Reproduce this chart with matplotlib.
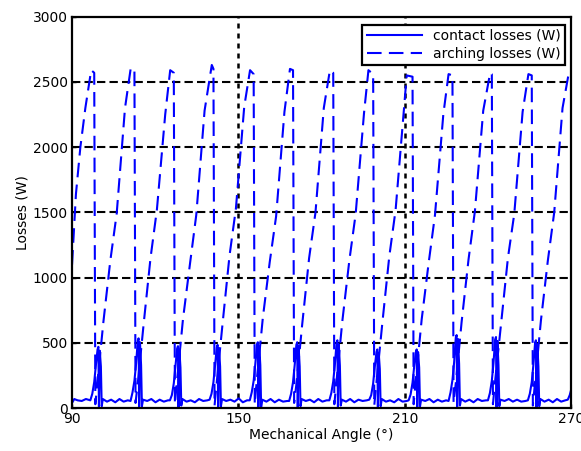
import numpy as np
import matplotlib
matplotlib.use("Agg")
import matplotlib.pyplot as plt

# contact losses (W) vs mechanical angle (deg)
contact_angle = [
    90.0, 90.8, 92.0, 93.5, 95.0,
    96.6, 97.3, 98.0, 98.6, 99.2, 99.5, 99.7, 100.0, 100.4, 100.7, 101.1, 102.6, 104.1, 105.6, 107.1, 108.6, 110.1,
    111.1, 111.8, 112.5, 113.1, 113.7, 114.0, 114.2, 114.5, 114.9, 115.2, 115.6, 117.1, 118.6, 120.1, 121.6, 123.1, 124.6,
    125.3, 126.0, 126.7, 127.3, 127.9, 128.2, 128.4, 128.7, 129.1, 129.4, 129.8, 131.3, 132.8, 134.3, 135.8, 137.3, 138.8,
    139.6, 140.3, 141.0, 141.6, 142.2, 142.5, 142.7, 143.0, 143.4, 143.7, 144.1, 145.6, 147.1, 148.6, 150.1, 151.6, 153.1,
    154.1, 154.8, 155.5, 156.1, 156.7, 157.0, 157.2, 157.5, 157.9, 158.2, 158.6, 160.1, 161.6, 163.1, 164.6, 166.1, 167.6,
    168.3, 169.0, 169.7, 170.3, 170.9, 171.2, 171.4, 171.7, 172.1, 172.4, 172.8, 174.3, 175.8, 177.3, 178.8, 180.3, 181.8,
    182.8, 183.5, 184.2, 184.8, 185.4, 185.7, 185.9, 186.2, 186.6, 186.9, 187.3, 188.8, 190.3, 191.8, 193.3, 194.8, 196.3,
    197.2, 197.9, 198.6, 199.2, 199.8, 200.1, 200.3, 200.6, 201.0, 201.3, 201.7, 203.2, 204.7, 206.2, 207.7, 209.2, 210.7,
    211.4, 212.1, 212.8, 213.4, 214.0, 214.3, 214.5, 214.8, 215.2, 215.5, 215.9, 217.4, 218.9, 220.4, 221.9, 223.4, 224.9,
    225.8, 226.5, 227.2, 227.8, 228.4, 228.7, 228.9, 229.2, 229.6, 229.9, 230.3, 231.8, 233.3, 234.8, 236.3, 237.8, 239.3,
    240.0, 240.7, 241.4, 242.0, 242.6, 242.9, 243.1, 243.4, 243.8, 244.1, 244.5, 246.0, 247.5, 249.0, 250.5, 252.0, 253.5,
    254.4, 255.1, 255.8, 256.4, 257.0, 257.3, 257.5, 257.8, 258.2, 258.5, 258.9, 260.4, 261.9, 263.4, 264.9, 266.4, 267.9,
    268.8, 269.5, 270.0,
]
contact_w = [
    40, 70, 60, 55, 70,
    60, 110, 200, 330, 450, 470, 10, 440, 320, 15, 70, 50, 65, 45, 70, 50, 60,
    55, 120, 210, 340, 515, 535, 10, 505, 330, 15, 65, 55, 70, 45, 65, 50, 60,
    60, 100, 190, 320, 455, 475, 5, 450, 310, 20, 70, 50, 60, 45, 70, 55, 60,
    65, 110, 200, 330, 465, 485, 10, 460, 320, 15, 70, 55, 65, 50, 75, 45, 60,
    60, 120, 210, 340, 485, 505, 10, 475, 330, 10, 65, 50, 70, 45, 65, 50, 55,
    55, 110, 200, 330, 485, 505, 5, 480, 320, 15, 70, 55, 65, 45, 70, 50, 60,
    60, 115, 205, 335, 500, 520, 10, 490, 325, 20, 65, 50, 70, 45, 65, 55, 60,
    65, 100, 190, 320, 430, 450, 10, 425, 300, 15, 70, 50, 60, 45, 70, 50, 55,
    60, 105, 195, 320, 430, 450, 5, 430, 310, 15, 65, 55, 70, 45, 65, 50, 60,
    55, 120, 215, 350, 540, 560, 10, 530, 340, 20, 70, 50, 65, 45, 70, 55, 60,
    60, 115, 210, 345, 525, 545, 10, 515, 330, 15, 65, 55, 70, 50, 65, 50, 55,
    60, 110, 200, 335, 500, 520, 5, 490, 320, 15, 70, 50, 65, 45, 70, 50, 60,
    65, 100, 140,
]

# arching losses (W): slow ramp up, then a sharp drop just before each contact peak
arching_angle = [
    90.0, 91.4, 93.0, 94.8, 96.9, 98.0,
    98.4, 99.2, 101.3, 103.8, 106.1, 109.1, 111.2, 112.5,
    112.9, 113.7, 115.8, 118.3, 120.6, 123.6, 125.4, 126.7,
    127.1, 127.9, 130.0, 132.5, 134.8, 137.8, 140.4, 141.0,
    141.4, 142.2, 144.3, 146.8, 149.1, 152.1, 154.2, 155.5,
    155.9, 156.7, 158.8, 161.3, 163.6, 166.6, 168.6, 169.7,
    170.1, 170.9, 173.0, 175.5, 177.8, 180.8, 183.0, 184.2,
    184.6, 185.4, 187.5, 190.0, 192.3, 195.3, 196.9, 198.6,
    199.0, 199.8, 201.9, 204.4, 206.7, 209.7, 210.7, 212.8,
    213.2, 214.0, 216.1, 218.6, 220.9, 223.9, 225.8, 227.2,
    227.6, 228.4, 230.5, 233.0, 235.3, 238.3, 240.8, 241.4,
    241.8, 242.6, 244.7, 247.2, 249.5, 252.5, 254.6, 255.8,
    256.2, 257.0, 259.1, 261.6, 263.9, 266.9, 269.0, 270.0,
]
arching_w = [
    1100, 1640, 2000, 2300, 2590, 2570,
    30, 210, 660, 1130, 1490, 2300, 2610, 2580,
    40, 190, 640, 1150, 1520, 2250, 2590, 2570,
    30, 220, 680, 1100, 1480, 2280, 2630, 2600,
    20, 200, 650, 1170, 1530, 2310, 2590, 2560,
    30, 230, 690, 1120, 1470, 2270, 2600, 2590,
    40, 180, 640, 1150, 1500, 2300, 2590, 2570,
    30, 210, 670, 1130, 1490, 2260, 2590, 2560,
    20, 200, 650, 1160, 1520, 2290, 2550, 2540,
    30, 220, 680, 1110, 1480, 2250, 2560, 2550,
    40, 190, 660, 1140, 1510, 2280, 2570, 2560,
    30, 210, 640, 1150, 1490, 2270, 2560, 2550,
    20, 200, 670, 1130, 1500, 2300, 2550, 2540,
]

x_ticks = [90, 150, 210, 270]
y_ticks = [0, 500, 1000, 1500, 2000, 2500, 3000]

fig = plt.figure(figsize=(5.81, 4.51), dpi=100)
ax = fig.add_axes([0.124, 0.095, 0.859, 0.868])

ax.plot(contact_angle, contact_w, color='#0000ff', lw=1.5, label='contact losses (W)')
ax.plot(arching_angle, arching_w, color='#0000ff', lw=1.5, dashes=(7, 3.5), label='arching losses (W)')

ax.set_xlim(90, 270)
ax.set_ylim(0, 3000)
ax.set_xticks(x_ticks)
ax.set_yticks(y_ticks)
ax.tick_params(direction='in', length=3, width=1, labelsize=10, pad=3)

# matlab style dotted grid
for yv in y_ticks[1:-1]:
    ax.axhline(yv, color='black', lw=1.5, ls=(0, (4, 2)), zorder=0.5)
for xv in x_ticks[1:-1]:
    ax.axvline(xv, color='black', lw=1.8, ls=(0, (2, 2)), zorder=0.5)

for s in ax.spines.values():
    s.set_linewidth(1.6)

ax.set_xlabel('Mechanical Angle (°)', fontsize=10, labelpad=1)
ax.set_ylabel('Losses (W)', fontsize=10, labelpad=2)

leg = ax.legend(loc='upper right', bbox_to_anchor=(0.988, 0.98), borderaxespad=0,
                fontsize=10, fancybox=False, framealpha=1, handlelength=4,
                borderpad=0.3, labelspacing=0.3)
leg.get_frame().set_edgecolor('black')
leg.get_frame().set_linewidth(1.6)

fig.savefig('out.png', dpi=100)
